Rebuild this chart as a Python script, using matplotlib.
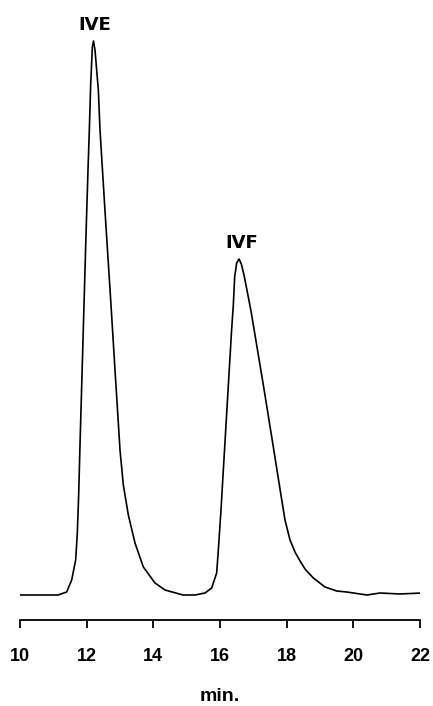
import matplotlib
matplotlib.use("Agg")
import matplotlib.pyplot as plt

# retention time (min) and detector signal (arbitrary units)
time_min = [10.0, 10.9, 11.14, 11.40, 11.55, 11.67, 11.72, 11.76, 11.80, 11.86,
            11.92, 11.98, 12.04, 12.08, 12.12, 12.17, 12.205, 12.25, 12.35, 12.40,
            12.55, 12.73, 12.85, 12.95, 13.00, 13.10, 13.25, 13.45, 13.70, 14.05,
            14.35, 14.89, 15.25, 15.55, 15.75, 15.90, 15.95, 16.03, 16.10, 16.15,
            16.24, 16.35, 16.40, 16.44, 16.50, 16.57, 16.64, 16.72, 16.82, 16.93,
            17.30, 17.60, 17.80, 17.95, 18.10, 18.25, 18.40, 18.55, 18.80, 19.15,
            19.50, 19.80, 20.41, 20.80, 21.40, 22.05]
signal = [0, 0, 0, 3, 15, 35, 62, 100, 150, 220,
          290, 360, 425, 465, 510, 548, 554, 545, 505, 465,
          384, 290, 225, 172, 145, 110, 80, 52, 28, 12,
          5, 0, 0, 2, 7, 22, 45, 85, 125, 153,
          204, 266, 290, 318, 332, 336, 331, 320, 303, 284,
          210, 148, 106, 75, 55, 43, 34, 26, 17, 8,
          4, 3, 0, 2, 1, 2]

peak_labels = ["IVE", "IVF"]
peak_times = [12.25, 16.65]
peak_heights = [554, 336]

x_ticks = [10, 12, 14, 16, 18, 20, 22]
x_label = "min."

fig = plt.figure(figsize=(4.33, 7.06), dpi=100)
ax = fig.add_axes([20/433, 86/706, 400/433, 620/706])

ax.plot(time_min, signal, color="black", lw=1.2, solid_joinstyle="round")

for lab, t, h in zip(peak_labels, peak_times, peak_heights):
    ax.text(t, h + 7, lab, ha="center", va="bottom",
            fontsize=13, fontfamily="DejaVu Sans", fontweight="bold")

ax.set_xlim(10, 22)
ax.set_ylim(-25, 595)
ax.set_xticks(x_ticks)
ax.set_xticklabels([str(v) for v in x_ticks], fontsize=13,
                   fontfamily="Liberation Sans", fontweight="bold")
ax.set_yticks([])
for s in ["left", "right", "top"]:
    ax.spines[s].set_visible(False)
ax.spines["bottom"].set_linewidth(1.3)
ax.tick_params(axis="x", direction="out", length=6, width=1.3, pad=14)
ax.set_xlabel(x_label, fontsize=14, fontfamily="Liberation Sans",
              fontweight="bold", labelpad=17)

fig.savefig("out.png", dpi=100)
